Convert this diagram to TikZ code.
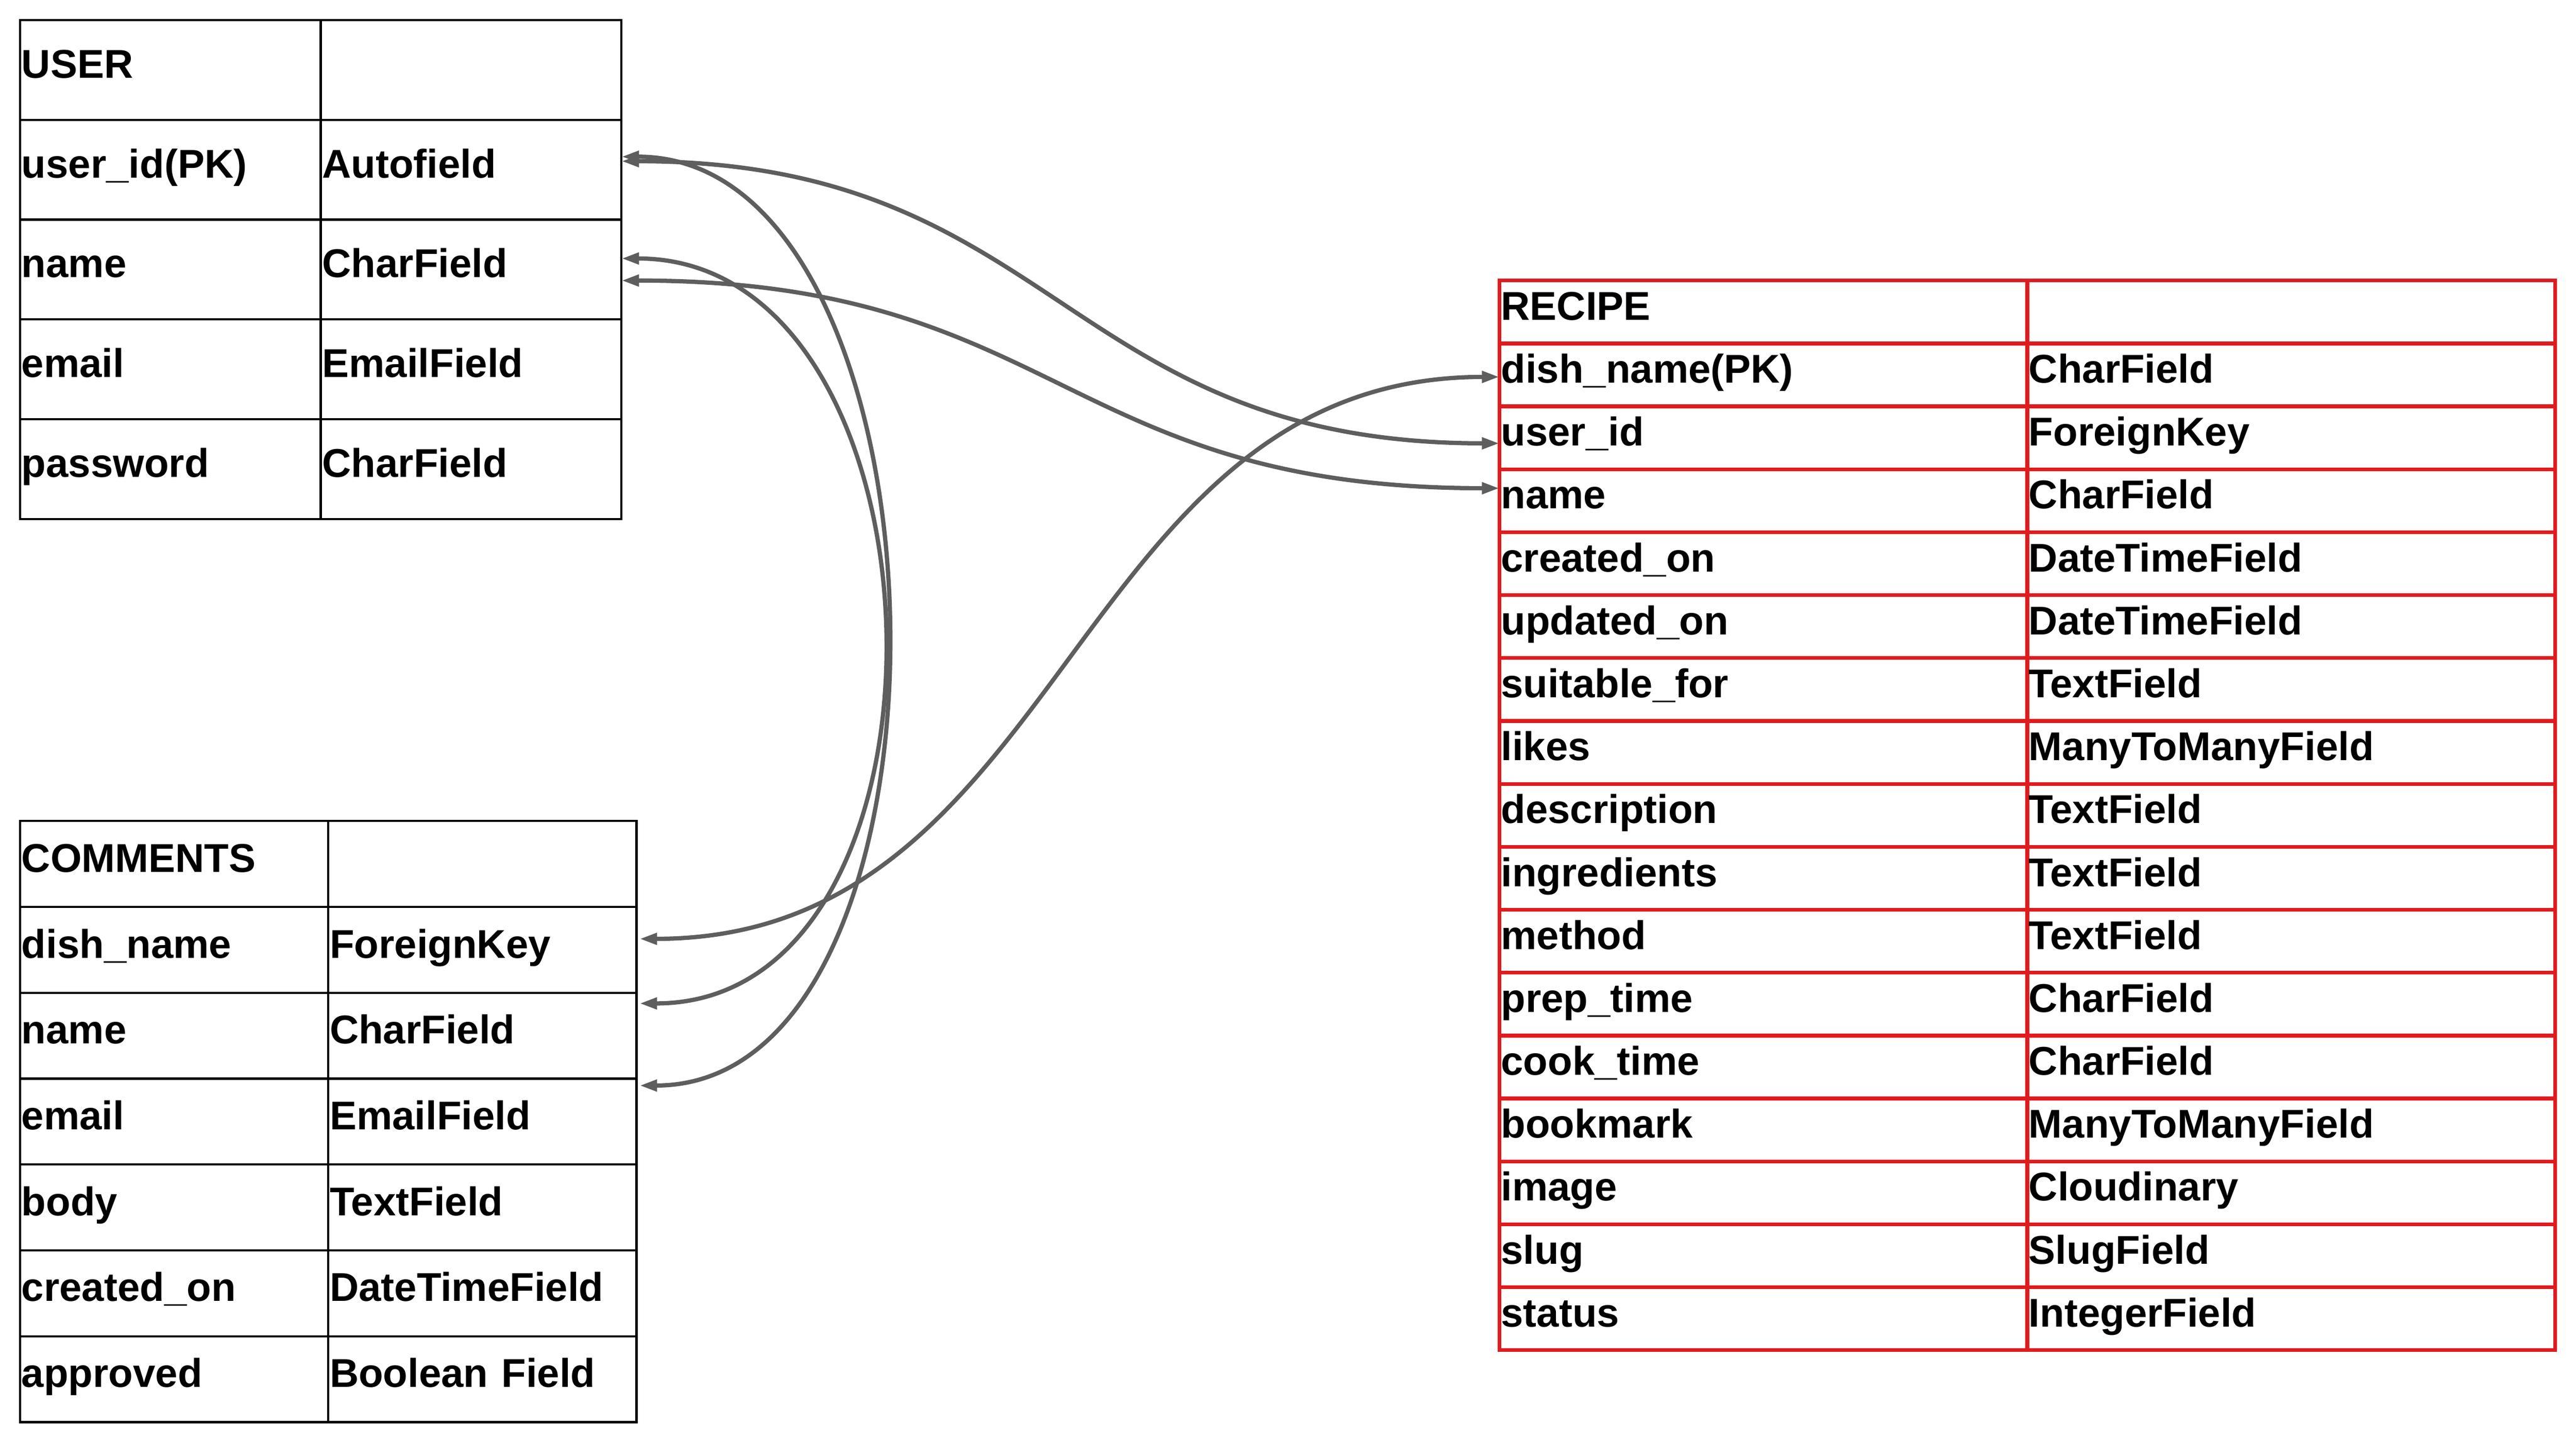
\documentclass[tikz,border=0pt]{standalone}
\usepackage{fontspec}
\setmainfont{Liberation Sans}
\usetikzlibrary{arrows.meta}
\usetikzlibrary{positioning}
\definecolor{recipered}{RGB}{224,27,30}
\definecolor{linkgray}{RGB}{94,94,94}

\begin{document}
\begin{tikzpicture}[>={Triangle[length=3.5mm,width=2.2mm]},
    cell/.style={draw,rectangle,outer sep=0pt,inner ysep=0pt,inner xsep=0.03cm,align=left,
      text height=0.6cm,text depth=0.28cm,font=\fontsize{22.8}{27}\selectfont\bfseries},
    user cell/.style={cell,line width=0.043cm,minimum height=1.992cm,text width=5.94cm},
    comment cell/.style={cell,line width=0.043cm,minimum height=1.714cm,text width=6.09cm},
    recipe cell/.style={cell,draw=recipered,line width=0.075cm,minimum height=1.256cm,text width=10.47cm},
    link/.style={<->,draw=linkgray,line width=0.085cm}]
  \fill[white] (0,0) rectangle (51.4,28.8);
  \useasboundingbox (0,0) rectangle (51.4,28.8);

  % user table
  \foreach \k/\t [count=\i from 0] in {USER/{},user\_id(PK)/Autofield,name/CharField,
      email/EmailField,password/CharField}{
    \node[user cell,anchor=north west] (u\i) at (0.40,{28.40-\i*1.992}) {\k};
    \node[user cell,right=0pt of u\i] (ut\i) {\t};
  }

  % comments table
  \foreach \k/\t [count=\i from 0] in {COMMENTS/{},dish\_name/ForeignKey,name/CharField,
      email/EmailField,body/TextField,created\_on/DateTimeField,approved/Boolean Field}{
    \node[comment cell,anchor=north west] (c\i) at (0.40,{12.41-\i*1.714}) {\k};
    \node[comment cell,right=0pt of c\i] (ct\i) {\t};
  }

  % recipe table
  \foreach \k/\t [count=\i from 0] in {RECIPE/{},dish\_name(PK)/CharField,user\_id/ForeignKey,
      name/CharField,created\_on/DateTimeField,updated\_on/DateTimeField,suitable\_for/TextField,
      likes/ManyToManyField,description/TextField,ingredients/TextField,method/TextField,
      prep\_time/CharField,cook\_time/CharField,bookmark/ManyToManyField,image/Cloudinary,
      slug/SlugField,status/IntegerField}{
    \node[recipe cell,anchor=north west] (r\i) at (29.92,{23.20-\i*1.256}) {\k};
    \node[recipe cell,right=0pt of r\i] (rt\i) {\t};
  }

  % links
  \draw[link] ([yshift=0.17cm]ut1.east) .. controls +(8.7,0) and +(-8.7,0) .. ([yshift=-0.11cm]r2.west);
  \draw[link] ([yshift=-0.22cm]ut2.east) .. controls +(8.7,0) and +(-8.7,0) .. ([yshift=0.25cm]r3.west);
  \draw[link] ([yshift=0.26cm]ut1.east) .. controls +(6.8,0) and +(6.8,0) .. ([xshift=0.06cm,yshift=0.72cm]ct3.east);
  \draw[link] ([yshift=0.22cm]ut2.east) .. controls +(6.7,0) and +(6.7,0) .. ([xshift=0.06cm,yshift=0.645cm]ct2.east);
  \draw[link] ([xshift=0.06cm,yshift=0.22cm]ct1.east) .. controls +(8.55,0) and +(-8.55,0) .. ([yshift=-0.04cm]r1.west);
\end{tikzpicture}
\end{document}
